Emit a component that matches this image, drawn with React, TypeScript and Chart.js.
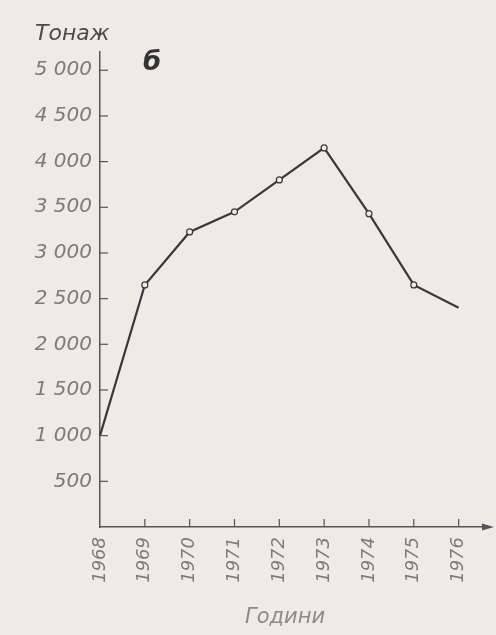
import React, { useEffect, useRef } from "react";
import { Chart, registerables } from "chart.js";

Chart.register(...registerables);

const years = [1968, 1969, 1970, 1971, 1972, 1973, 1974, 1975, 1976];
const tonnage = [1000, 2650, 3230, 3450, 3800, 4150, 3430, 2650, 2400];
const yTickValues = [500, 1000, 1500, 2000, 2500, 3000, 3500, 4000, 4500, 5000];
const pointRadii = [0, 3, 3, 3, 3, 3, 3, 3, 0];
const yTitle = "Тонаж";
const xTitle = "Години";
const panelLabel = "б";

const BG = "#eeebe7";
const AXIS = "#555555";
const FONT = "'DejaVu Sans', sans-serif";

const fmt = (v: number) => String(v).replace(/\B(?=(\d{3})+(?!\d))/g, " ");

const decorPlugin = {
  id: "decor",
  afterDraw(chart: any) {
    const { ctx, chartArea, scales } = chart;
    const xs = scales.x;
    const ys = scales.y;
    ctx.save();
    ctx.strokeStyle = AXIS;
    ctx.lineWidth = 1.2;
    // inward y ticks
    ys.ticks.forEach((t: any) => {
      const py = ys.getPixelForValue(t.value);
      ctx.beginPath();
      ctx.moveTo(chartArea.left, py);
      ctx.lineTo(chartArea.left + 8, py);
      ctx.stroke();
    });
    // inward x ticks
    xs.ticks.forEach((t: any, i: number) => {
      if (i === 0) return;
      const px = xs.getPixelForValue(t.value);
      ctx.beginPath();
      ctx.moveTo(px, chartArea.bottom);
      ctx.lineTo(px, chartArea.bottom - 8);
      ctx.stroke();
    });
    // arrow at end of x axis
    ctx.fillStyle = AXIS;
    ctx.beginPath();
    ctx.moveTo(chartArea.right + 4, chartArea.bottom);
    ctx.lineTo(chartArea.right - 8, chartArea.bottom - 3.5);
    ctx.lineTo(chartArea.right - 8, chartArea.bottom + 3.5);
    ctx.closePath();
    ctx.fill();
    // y title
    ctx.fillStyle = "#4a4a4a";
    ctx.font = `italic 22px ${FONT}`;
    ctx.textAlign = "left";
    ctx.textBaseline = "alphabetic";
    ctx.fillText(yTitle, chartArea.left - 65, chartArea.top - 12);
    // panel label
    ctx.fillStyle = "#333333";
    ctx.font = `italic bold 26px ${FONT}`;
    ctx.fillText(panelLabel, chartArea.left + 43, chartArea.top + 18);
    // x title
    ctx.fillStyle = "#8a8a8a";
    ctx.font = `italic 21px ${FONT}`;
    ctx.textAlign = "center";
    ctx.textBaseline = "middle";
    ctx.fillText(xTitle, (chartArea.left + chartArea.right) / 2 - 10, chartArea.bottom + 91);
    ctx.restore();
  },
};

export default function App() {
  const ref = useRef<HTMLCanvasElement | null>(null);

  useEffect(() => {
    if (!ref.current) return;
    const chart = new Chart(ref.current, {
      type: "line",
      data: {
        datasets: [
          {
            data: years.map((y, i) => ({ x: y, y: tonnage[i] })),
            borderColor: "#383838",
            borderWidth: 2.2,
            pointRadius: pointRadii,
            pointBackgroundColor: BG,
            pointBorderColor: "#383838",
            pointBorderWidth: 1.2,
            tension: 0,
            clip: false as any,
          },
        ],
      },
      options: {
        animation: false,
        responsive: false,
        maintainAspectRatio: false,
        layout: { padding: { left: 0, right: 6, top: 52, bottom: 4 } },
        plugins: {
          legend: { display: false },
          tooltip: { enabled: false },
          title: { display: false },
        },
        scales: {
          x: {
            type: "linear",
            min: 1968,
            max: 1976.7,
            grid: { display: false },
            border: { display: true, color: AXIS, width: 1.5 },
            afterBuildTicks: (scale: any) => {
              scale.ticks = years.map((v) => ({ value: v }));
            },
            afterFit: (scale: any) => {
              scale.height = 104;
            },
            ticks: {
              minRotation: 90,
              maxRotation: 90,
              padding: 2,
              color: "#7a7a7a",
              font: { family: FONT, size: 18, style: "italic" },
              callback: (v: any) => String(v),
            },
          },
          y: {
            type: "linear",
            min: 0,
            max: 5200,
            grid: { display: false },
            border: { display: true, color: AXIS, width: 1.5 },
            afterBuildTicks: (scale: any) => {
              scale.ticks = yTickValues.map((v) => ({ value: v }));
            },
            afterFit: (scale: any) => {
              scale.width = 100;
            },
            ticks: {
              padding: 0,
              color: "#7a7a7a",
              font: { family: FONT, size: 20, style: "italic" },
              callback: (v: any) => fmt(Number(v)),
            },
          },
        },
      },
      plugins: [decorPlugin],
    });
    return () => chart.destroy();
  }, []);

  return (
    <div
      style={{
        position: "fixed",
        left: 0,
        top: 0,
        width: 496,
        height: 635,
        background: BG,
      }}
    >
      <canvas ref={ref} width={496} height={635} style={{ display: "block" }} />
    </div>
  );
}
